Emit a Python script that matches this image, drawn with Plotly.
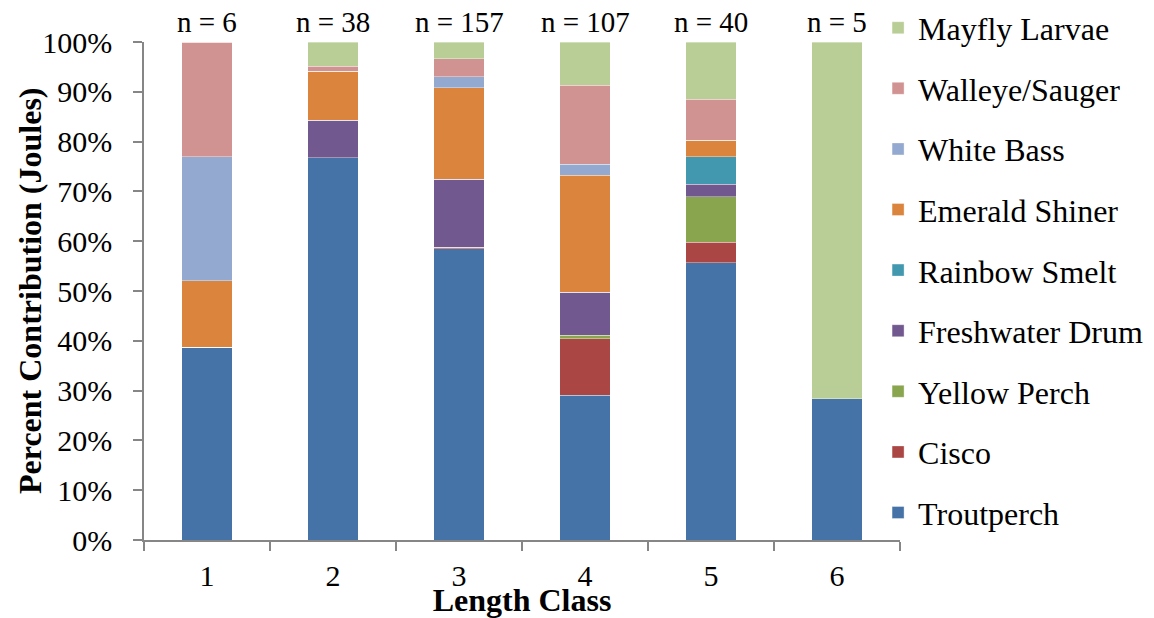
import plotly.graph_objects as go

# Length classes and sample sizes
length_classes = ["1", "2", "3", "4", "5", "6"]
sample_sizes = [6, 38, 157, 107, 40, 5]

# Percent contribution (Joules) of each prey item per length class
troutperch      = [38.7, 76.8, 58.5, 29.1, 55.7, 28.4]
cisco           = [0.0, 0.0, 0.3, 11.3, 4.1, 0.0]
yellow_perch    = [0.0, 0.0, 0.0, 0.7, 9.1, 0.0]
freshwater_drum = [0.0, 7.5, 13.6, 8.7, 2.5, 0.0]
rainbow_smelt   = [0.0, 0.0, 0.0, 0.0, 5.6, 0.0]
emerald_shiner  = [13.4, 9.8, 18.4, 23.4, 3.3, 0.0]
white_bass      = [24.9, 0.0, 2.2, 2.3, 0.0, 0.0]
walleye_sauger  = [23.0, 1.0, 3.6, 15.8, 8.2, 0.0]
mayfly_larvae   = [0.0, 4.9, 3.4, 8.7, 11.5, 71.6]

# Stacking order: first entry sits at the bottom of each bar
series = [
    ("Troutperch", troutperch, "#4572A7"),
    ("Cisco", cisco, "#AA4643"),
    ("Yellow Perch", yellow_perch, "#89A54E"),
    ("Freshwater Drum", freshwater_drum, "#71588F"),
    ("Rainbow Smelt", rainbow_smelt, "#4198AF"),
    ("Emerald Shiner", emerald_shiner, "#DB843D"),
    ("White Bass", white_bass, "#93A9CF"),
    ("Walleye/Sauger", walleye_sauger, "#D19392"),
    ("Mayfly Larvae", mayfly_larvae, "#B9CD96"),
]

FONT = "Times New Roman, Liberation Serif, serif"
AXIS_GRAY = "#868686"

fig = go.Figure()
for rank, (name, values, color) in enumerate(series):
    fig.add_trace(go.Bar(
        x=length_classes,
        y=values,
        name=name,
        legendgroup=name,
        legendrank=100 - rank,  # top of the stack listed first
        marker=dict(color=color, line=dict(color="rgba(255,255,255,0.45)", width=0.8)),
    ))

# Sample size labels above each bar (category axis positions by index)
for i, n in enumerate(sample_sizes):
    fig.add_annotation(
        x=i, y=100, xref="x", yref="y",
        text=f"n = {n}", showarrow=False,
        yanchor="bottom", yshift=2,
        font=dict(family=FONT, size=29, color="black"),
    )

# Vertical axis title
fig.add_annotation(
    x=-0.1508, y=0.5, xref="paper", yref="paper",
    text="<b>Percent Contribution (Joules)</b>", showarrow=False,
    textangle=-90, xanchor="center", yanchor="middle",
    font=dict(family=FONT, size=32, color="black"),
)

fig.update_layout(
    width=1154, height=618,
    barmode="stack",
    bargap=0.6,
    plot_bgcolor="white",
    paper_bgcolor="white",
    margin=dict(l=144, r=254, t=42, b=78, autoexpand=False),
    font=dict(family=FONT, size=30, color="black"),
    legend=dict(
        x=0.971, xanchor="left",
        y=1.0835, yanchor="top",
        traceorder="grouped",
        tracegroupgap=16,
        maxheight=600,
        font=dict(family=FONT, size=32, color="black"),
        bgcolor="rgba(0,0,0,0)",
    ),
    xaxis=dict(
        type="category",
        categoryorder="array", categoryarray=length_classes,
        tickson="boundaries",
        ticks="outside", ticklen=9, tickcolor=AXIS_GRAY, tickwidth=1.5,
        ticklabelstandoff=8,
        showline=True, linecolor=AXIS_GRAY, linewidth=1.5,
        showgrid=False,
        tickfont=dict(family=FONT, size=30),
        title=dict(text="<b>Length Class</b>", standoff=0,
                   font=dict(family=FONT, size=32)),
    ),
    yaxis=dict(
        range=[0, 100],
        dtick=10,
        ticksuffix="%",
        ticks="outside", ticklen=9, tickcolor=AXIS_GRAY, tickwidth=1.5,
        ticklabelstandoff=15,
        showline=True, linecolor=AXIS_GRAY, linewidth=1.5,
        showgrid=False, zeroline=False,
        tickfont=dict(family=FONT, size=30),
    ),
)

fig.write_html("out.html")
